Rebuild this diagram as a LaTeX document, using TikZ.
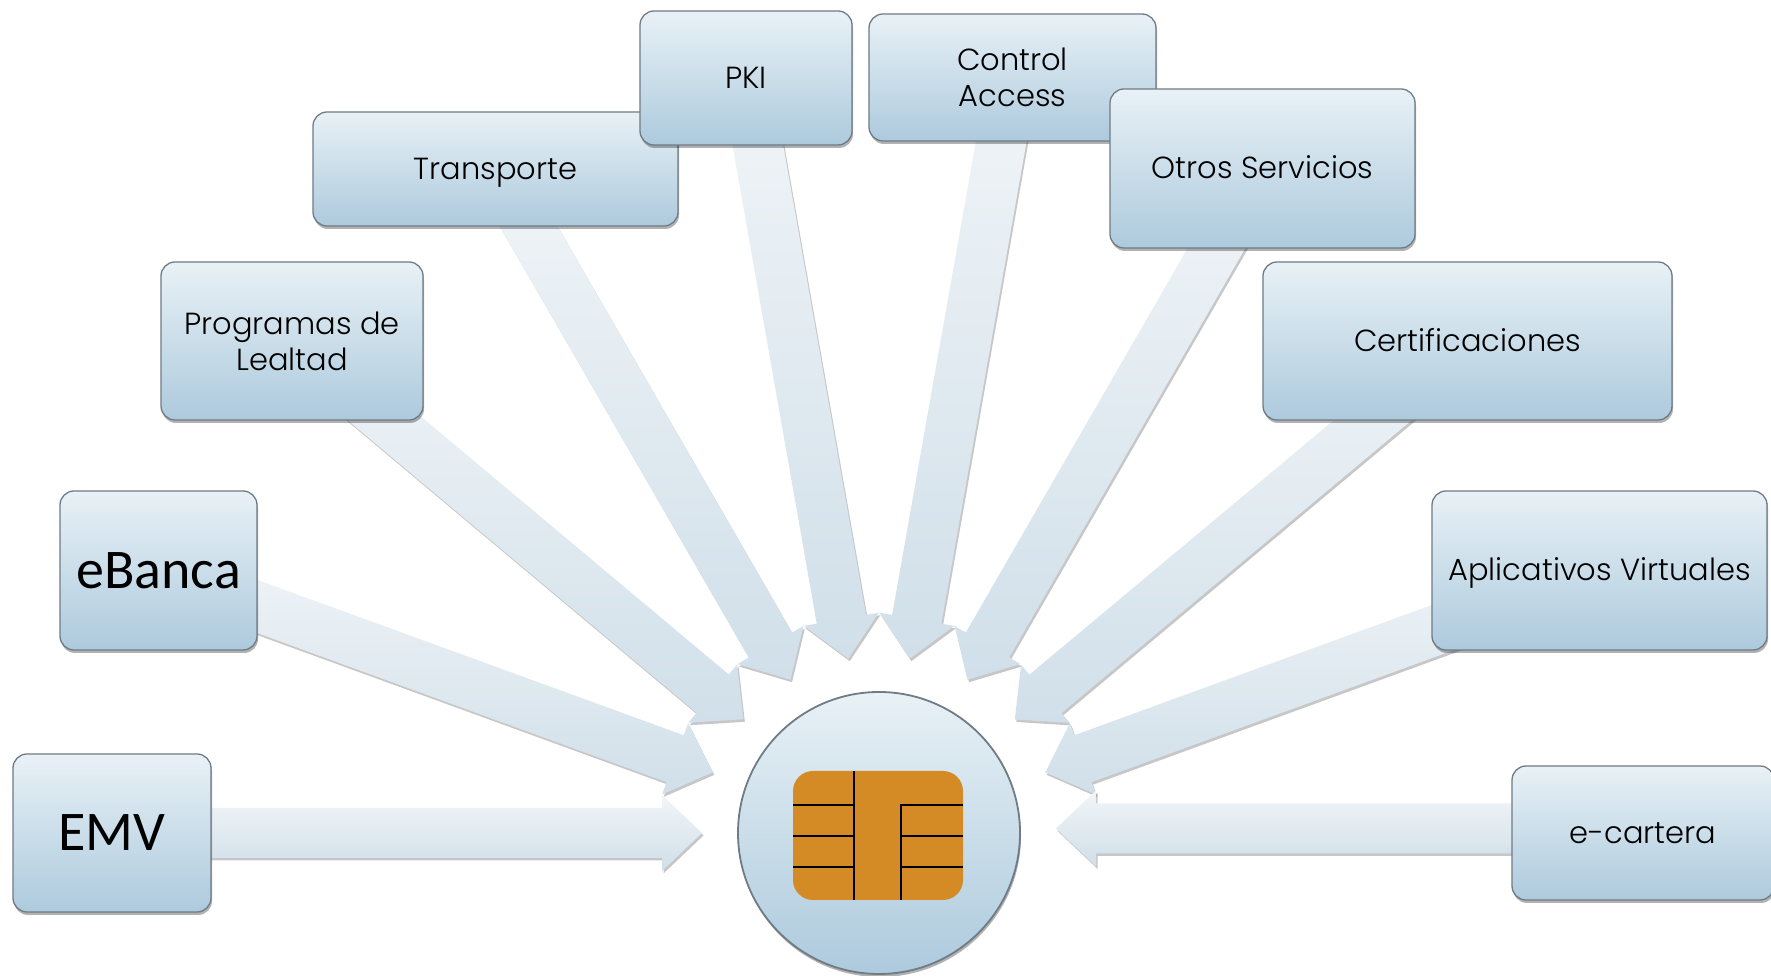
\documentclass[tikz,border=0pt]{standalone}
\usepackage{fontspec}
\setmainfont{Poppins}[UprightFont=* Light]
\newfontfamily\bigfont{Carlito}
\usepackage{tikz}
\usetikzlibrary{calc,shadows,backgrounds}
\definecolor{boxtop}{HTML}{E8F1F6}
\definecolor{boxbot}{HTML}{ADCADD}
\definecolor{boxline}{HTML}{6F7B85}
\definecolor{spoketop}{HTML}{F1F5F8}
\definecolor{spokebot}{HTML}{D0DFE9}
\definecolor{chipfill}{HTML}{D48A25}
\tikzstyle{softshadow}=[drop shadow={shadow xshift=1pt,shadow yshift=-3pt,opacity=.3,fill=black}]
\tikzstyle{box}=[rectangle,rounded corners=14pt,draw=boxline,line width=1.3pt,top color=boxtop,bottom color=boxbot,
  softshadow,inner sep=0pt,align=center,font=\fontsize{30.5}{36}\selectfont]
\tikzstyle{oneline}=[text height=24pt,text depth=3pt]
\tikzstyle{bigbox}=[box,font=\bigfont\fontsize{56}{60}\selectfont]
\tikzstyle{hubcircle}=[circle,draw=boxline,line width=1.8pt,top color=boxtop,bottom color=boxbot,softshadow,
  minimum size=282pt,inner sep=0pt]
\tikzstyle{chip}=[rectangle,rounded corners=20pt,fill=chipfill,minimum width=170pt,minimum height=129pt,inner sep=0pt]
\tikzstyle{spoke}=[top color=spoketop,bottom color=spokebot,
  drop shadow={shadow xshift=1.5pt,shadow yshift=-2.5pt,opacity=.22,fill=black}]
\tikzstyle{contact}=[line width=1.3pt,black]
% block arrow from #1 to #2
\newcommand{\spokearrow}[2]{
  \shade[spoke]
  ($(#2)!177pt!(#1)$) coordinate (tip)
  -- ($($(#2)!217pt!(#1)$)!38pt!90:(#1)$)
  -- ($($(#2)!217pt!(#1)$)!25pt!90:(#1)$)
  -- ($(#1)!25pt!-90:(#2)$)
  -- ($(#1)!25pt!90:(#2)$)
  -- ($($(#2)!217pt!(#1)$)!25pt!-90:(#1)$)
  -- ($($(#2)!217pt!(#1)$)!38pt!-90:(#1)$)
  -- cycle;
}

\begin{document}
\begin{tikzpicture}[
        x=1pt,
        y=1pt,
        node distance=100pt
        ]
        \useasboundingbox (0,0) rectangle (1771,976);
        \node[hubcircle](hub) at (879,143) {};
        \node[chip](chipbody) [below of=hub, xshift=-1pt, yshift=97.5pt] {};
        \node[bigbox, minimum width=198pt, minimum height=158pt](emv) [left of=hub, xshift=-667pt] {EMV};
        \node[bigbox, minimum width=197pt, minimum height=159pt](ebanca) [above of=hub, xshift=-720.5pt, yshift=162.5pt] {eBanca};
        \node[box, minimum width=262pt, minimum height=158pt](lealtad) [above of=hub, xshift=-587pt, yshift=392pt] {Programas de\\Lealtad};
        \node[box, oneline, minimum width=365pt, minimum height=114pt](transporte) [above of=hub, xshift=-383.5pt, yshift=564pt] {Transporte};
        \node[box, oneline, minimum width=212pt, minimum height=134pt](pki) [above of=hub, xshift=-133pt, yshift=655pt] {PKI};
        \node[box, minimum width=287pt, minimum height=127pt](access) [above of=hub, xshift=133.5pt, yshift=655.5pt] {Control\\Access};
        \node[box, oneline, minimum width=305pt, minimum height=159pt](otros) [above of=hub, xshift=383.5pt, yshift=564.5pt] {Otros Servicios};
        \node[box, oneline, minimum width=409pt, minimum height=158pt](certif) [above of=hub, xshift=588.5pt, yshift=392pt] {Certificaciones};
        \node[box, oneline, minimum width=335pt, minimum height=159pt](aplic) [above of=hub, xshift=720.5pt, yshift=162.5pt] {Aplicativos Virtuales};
        \node[box, oneline, minimum width=262pt, minimum height=134pt](cartera) [right of=hub, xshift=664pt] {e-cartera};
        \coordinate (carteratail) at ($(cartera)+(0,4.5)$);
        \coordinate (hubright) at ($(hub)+(0,4.5)$);
        \begin{scope}[on background layer]
        \foreach \s in {pki,access,transporte,otros,lealtad,certif,ebanca,aplic,emv}
            {\spokearrow{\s}{hub}}
        \spokearrow{carteratail}{hubright}
        \end{scope}
        \begin{scope}[shift={(chipbody.center)}]
        \draw[contact] (-24,64.5) -- (-24,-64.5);
        \draw[contact] (85,30.5) -- (23,30.5) -- (23,-64.5);
        \draw[contact] (-85,30.5) -- (-24,30.5);
        \draw[contact] (-85,-0.5) -- (-24,-0.5);
        \draw[contact] (-85,-31.5) -- (-24,-31.5);
        \draw[contact] (23,-0.5) -- (85,-0.5);
        \draw[contact] (23,-31.5) -- (85,-31.5);
        \end{scope}
    \end{tikzpicture}
\end{document}
